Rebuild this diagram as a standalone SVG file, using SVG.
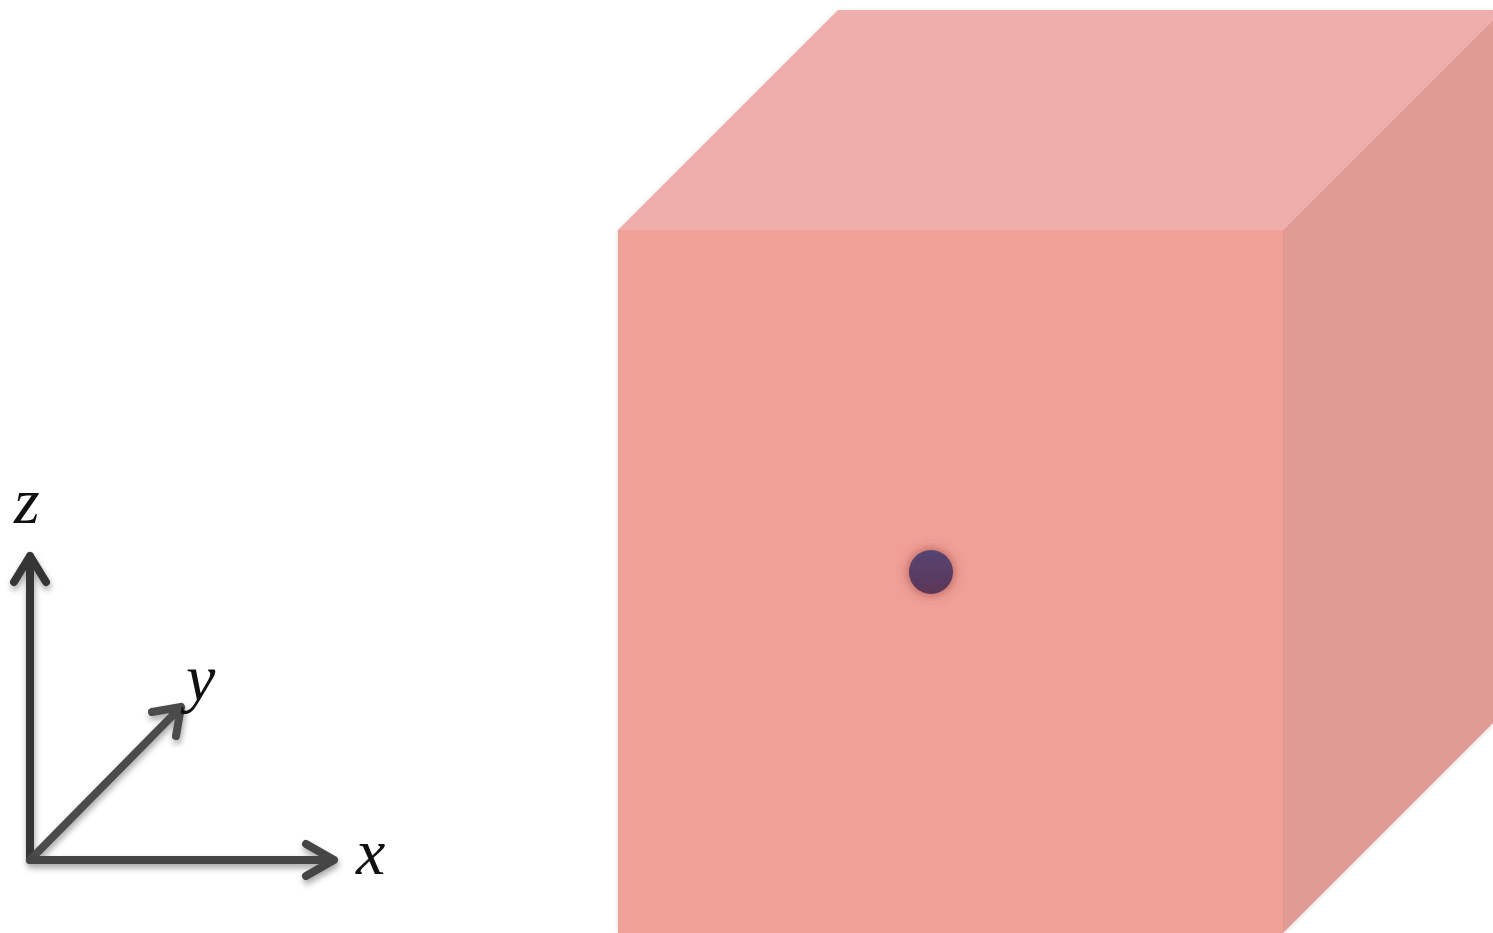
<svg xmlns="http://www.w3.org/2000/svg" width="1493" height="933" viewBox="0 0 1493 933">
<defs>
<filter id="sh" x="-20%" y="-20%" width="140%" height="140%"><feGaussianBlur in="SourceAlpha" stdDeviation="3"/><feOffset dx="1" dy="4"/><feComponentTransfer><feFuncA type="linear" slope="0.35"/></feComponentTransfer><feMerge><feMergeNode/><feMergeNode in="SourceGraphic"/></feMerge></filter>
<filter id="glow" x="-100%" y="-100%" width="300%" height="300%"><feGaussianBlur in="SourceAlpha" stdDeviation="6" result="b"/><feFlood flood-color="#a04848" flood-opacity="0.9"/><feComposite in2="b" operator="in"/><feMerge><feMergeNode/><feMergeNode in="SourceGraphic"/></feMerge></filter>
<linearGradient id="dot" x1="0" y1="0" x2="0" y2="1"><stop offset="0" stop-color="#564573"/><stop offset="1" stop-color="#5c3656"/></linearGradient>
<filter id="edge" x="-5%" y="-5%" width="110%" height="110%"><feGaussianBlur in="SourceAlpha" stdDeviation="2"/><feOffset dx="0" dy="1"/><feComponentTransfer><feFuncA type="linear" slope="0.15"/></feComponentTransfer><feMerge><feMergeNode/><feMergeNode in="SourceGraphic"/></feMerge></filter>
</defs>
<style>
.ax{fill:none;stroke-width:8;stroke-linecap:round;stroke-linejoin:round}
.lbl{font-family:"Liberation Serif","DejaVu Serif",serif;font-style:italic;font-size:66px;fill:#111}
</style>
<rect width="1493" height="933" fill="#fff"/>
<g id="cube" filter="url(#edge)">
<polygon points="618,230 838,10 1493,10 1493,20 1283,230" fill="#efaeab"/>
<polygon points="1283,230 1493,20 1493,723 1283,933" fill="#e09c94"/>
<rect x="618" y="230" width="665" height="703" fill="#f0a096"/>
</g>
<g id="particle"><circle cx="931" cy="572" r="22" fill="url(#dot)" filter="url(#glow)"/></g>
<g id="axes" filter="url(#sh)">
<path class="ax" stroke="#363636" d="M30,860 V556 M14,582 L30,556 L46,582"/>
<path class="ax" stroke="#4c4c4c" d="M30,860 L181,707 M152,712 L181,707 L176,736"/>
<path class="ax" stroke="#454545" d="M30,860 H334 M306,844 L334,860 L306,876"/>
</g>
<g id="labels">
<text class="lbl" x="14" y="523">z</text>
<text class="lbl" x="186" y="700">y</text>
<text class="lbl" x="356" y="874">x</text>
</g>
</svg>
